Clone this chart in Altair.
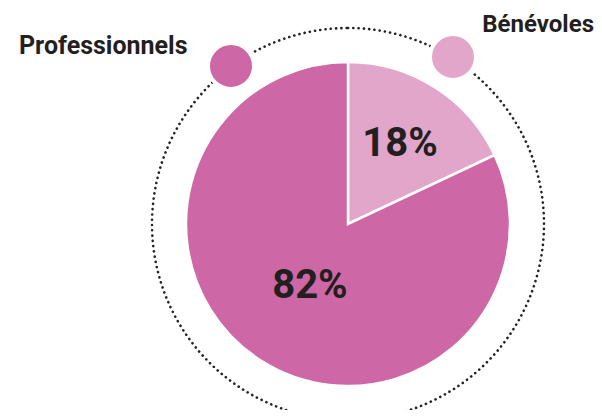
import altair as alt
import pandas as pd

# ---- data ----
categories = ["Bénévoles", "Professionnels"]
shares = [18, 82]
pct_labels = ["18%", "82%"]
colors = ["#E1A6CA", "#CD67A5"]
order_idx = [0, 1]

df = pd.DataFrame({"cat": categories, "share": shares, "label": pct_labels, "ord": order_idx})

# ---- layout (chart coords = image coords - 8) ----
CX, CY = 340, 216
R = 162
R_DOT = 196
TXT = "#231F20"
FONT = "Roboto"

color_scale = alt.Scale(domain=categories, range=colors)

pie = alt.Chart(df).mark_arc(outerRadius=R, stroke="white", strokeWidth=2.5).encode(
    theta=alt.Theta("share:Q", stack=True),
    order=alt.Order("ord:Q"),
    color=alt.Color("cat:N", scale=color_scale, legend=None),
    x=alt.value(CX),
    y=alt.value(CY),
)

# label position: middle angle of each slice, placed at a chosen radius
pct = alt.Chart(df).mark_text(
    font=FONT, fontSize=40, fontWeight="bold", color=TXT,
    align="center", baseline="middle", dy=2,
).transform_window(
    cum="sum(share)", sort=[alt.SortField("ord")]
).transform_joinaggregate(
    tot="sum(share)"
).transform_calculate(
    ang="2*PI*(datum.cum - datum.share/2)/datum.tot",
    rad="datum.ord == 0 ? 97 : 71",
).transform_calculate(
    px=f"{CX} + datum.rad*sin(datum.ang)",
    py=f"{CY} - datum.rad*cos(datum.ang)",
).encode(
    text="label:N",
    x=alt.X("px:Q", scale=None),
    y=alt.Y("py:Q", scale=None),
)

ring = alt.Chart(pd.DataFrame({"v": [1]})).mark_arc(
    outerRadius=R_DOT, theta=0, theta2=6.2832, fillOpacity=0,
    stroke="#222222", strokeWidth=2.6, strokeDash=[0.1, 5.2], strokeCap="round",
).encode(
    x=alt.value(CX),
    y=alt.value(CY),
)

dot_prof = alt.Chart(pd.DataFrame({"v": [1]})).mark_point(
    shape="circle", filled=True, size=2116, fill=colors[1], fillOpacity=1,
    stroke="white", strokeWidth=4, opacity=1,
).encode(x=alt.value(223), y=alt.value(58))

dot_ben = alt.Chart(pd.DataFrame({"v": [1]})).mark_point(
    shape="circle", filled=True, size=2116, fill=colors[0], fillOpacity=1,
    stroke="white", strokeWidth=4, opacity=1,
).encode(x=alt.value(445), y=alt.value(49))

lab_prof = alt.Chart(pd.DataFrame({"t": [categories[1]]})).mark_text(
    font=FONT, fontSize=25, fontWeight="bold", color=TXT,
    align="left", baseline="alphabetic",
).encode(text="t:N", x=alt.value(11), y=alt.value(46))

lab_ben = alt.Chart(pd.DataFrame({"t": [categories[0]]})).mark_text(
    font=FONT, fontSize=24, fontWeight="bold", color=TXT,
    align="right", baseline="alphabetic",
).encode(text="t:N", x=alt.value(586), y=alt.value(24))

chart = alt.layer(ring, pie, pct, dot_prof, dot_ben, lab_prof, lab_ben).properties(
    width=586, height=402, padding=0, autosize=alt.AutoSizeParams(type="none"),
    background="white",
).configure_view(stroke=None)

chart.save("out.html", embed_options={"renderer": "svg", "actions": False})
